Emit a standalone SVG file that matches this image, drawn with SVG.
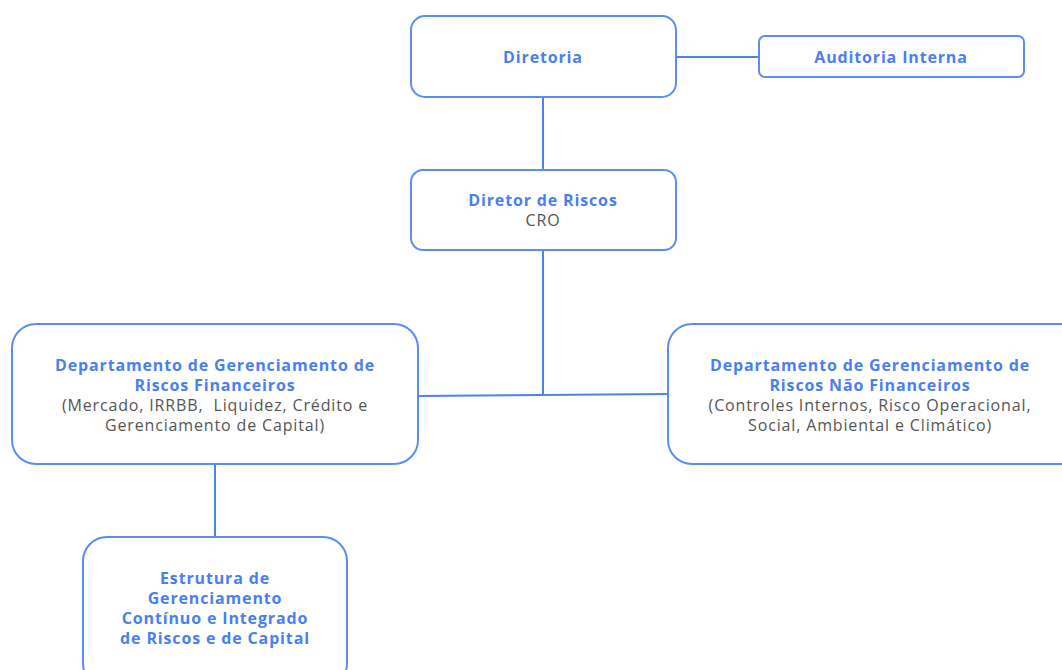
<svg xmlns="http://www.w3.org/2000/svg" width="1062" height="670" viewBox="0 0 1062 670">
<style>
.box{fill:#fff;stroke:#5b8ef0;stroke-width:2}
.ln{stroke:#4a86e8;stroke-width:2;fill:none}
text{font-family:"Open Sans","DejaVu Sans",sans-serif;font-size:16px;letter-spacing:0.85px;text-anchor:middle}
.t{fill:#4a7ff0;font-weight:bold}
.s{fill:#555}
</style>
<rect width="1062" height="670" fill="#fff"/>
<g id="connectors">
<line class="ln" x1="676" y1="57" x2="759" y2="57"/>
<line class="ln" x1="543" y1="97" x2="543" y2="170"/>
<line class="ln" x1="543" y1="250" x2="543" y2="395"/>
<line class="ln" x1="418" y1="396" x2="668" y2="394"/>
<line class="ln" x1="215" y1="464" x2="215" y2="537"/>
</g>
<g id="diretoria">
<rect class="box" x="411" y="16" width="265" height="81" rx="14"/>
<text class="t" x="543" y="63">Diretoria</text>
</g>
<g id="auditoria">
<rect class="box" x="759" y="36" width="265" height="41" rx="6"/>
<text class="t" x="891" y="63">Auditoria Interna</text>
</g>
<g id="diretor-riscos">
<rect class="box" x="411" y="170" width="265" height="80" rx="12"/>
<text class="t" x="543" y="206">Diretor de Riscos</text>
<text class="s" x="543" y="226">CRO</text>
</g>
<g id="dep-financeiros">
<rect class="box" x="12" y="324" width="406" height="140" rx="24"/>
<text class="t" x="215" y="371">Departamento de Gerenciamento de</text>
<text class="t" x="215" y="391">Riscos Financeiros</text>
<text class="s" x="215" y="411" xml:space="preserve">(Mercado, IRRBB,  Liquidez, Crédito e</text>
<text class="s" x="215" y="431">Gerenciamento de Capital)</text>
</g>
<g id="dep-nao-financeiros">
<rect class="box" x="668" y="324" width="420" height="140" rx="24"/>
<text class="t" x="870" y="371">Departamento de Gerenciamento de</text>
<text class="t" x="870" y="391">Riscos Não Financeiros</text>
<text class="s" x="870" y="411">(Controles Internos, Risco Operacional,</text>
<text class="s" x="870" y="431">Social, Ambiental e Climático)</text>
</g>
<g id="estrutura">
<rect class="box" x="83" y="537" width="264" height="150" rx="24"/>
<text class="t" x="215" y="584">Estrutura de</text>
<text class="t" x="215" y="604">Gerenciamento</text>
<text class="t" x="215" y="624">Contínuo e Integrado</text>
<text class="t" x="215" y="644">de Riscos e de Capital</text>
</g>
</svg>
